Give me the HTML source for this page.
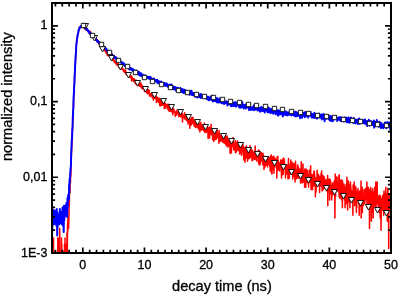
<!DOCTYPE html>
<html><head><meta charset="utf-8"><style>
html,body{margin:0;padding:0;background:#fff;}
body{width:399px;height:296px;overflow:hidden;}
svg{display:block;}
</style></head><body>
<svg width="399" height="296" viewBox="0 0 399 296">
<defs><clipPath id="c"><rect x="52.0" y="3.0" width="339.0" height="250.0"/></clipPath></defs>
<g clip-path="url(#c)" fill="none" stroke-linejoin="round">
<polyline points="52.0,251.3 52.2,274.1 52.3,300.0 52.5,296.9 52.7,260.8 52.8,300.0 53.0,300.0 53.2,296.9 53.3,260.8 53.5,238.0 53.7,296.9 53.8,296.9 54.0,260.8 54.2,300.0 54.3,300.0 54.5,274.1 54.7,274.1 54.8,300.0 55.0,300.0 55.2,274.1 55.3,251.3 55.5,300.0 55.7,300.0 55.8,296.9 56.0,300.0 56.2,300.0 56.3,300.0 56.5,300.0 56.7,300.0 56.8,296.9 57.0,274.1 57.2,300.0 57.3,296.9 57.5,296.9 57.7,300.0 57.8,238.0 58.0,300.0 58.2,296.9 58.3,300.0 58.5,300.0 58.7,300.0 58.8,296.9 59.0,238.0 59.2,244.0 59.3,260.8 59.5,260.8 59.7,228.5 59.8,251.3 60.0,300.0 60.2,251.3 60.3,251.3 60.5,274.1 60.7,260.8 60.8,274.1 61.0,300.0 61.2,300.0 61.3,296.9 61.5,238.0 61.7,300.0 61.8,244.0 62.0,300.0 62.2,274.1 62.3,300.0 62.5,300.0 62.7,296.9 62.8,260.8 63.0,296.9 63.2,296.9 63.3,260.8 63.5,274.1 63.7,300.0 63.8,251.3 64.0,274.1 64.2,300.0 64.3,300.0 64.5,244.0 64.6,251.3 64.8,300.0 65.0,238.0 65.1,260.8 65.3,251.3 65.5,251.3 65.6,274.1 65.8,296.9 66.0,260.8 66.1,274.1 66.3,244.0 66.5,296.9 66.6,260.8 66.8,274.1 67.0,232.9 67.1,296.9 67.3,260.8 67.5,224.6 67.6,232.9 67.8,221.2 68.0,218.0 68.1,221.2 68.3,218.0 68.5,228.5 68.6,228.5 68.8,221.2 69.0,215.2 69.1,201.8 69.3,205.7 69.5,193.8 69.6,187.3 69.8,192.4 70.0,192.4 70.1,180.0 70.3,179.0 70.5,182.9 70.6,172.4 70.8,176.4 71.0,168.2 71.1,159.6 71.3,157.2 71.5,152.4 71.6,150.8 71.8,145.4 72.0,143.5 72.1,136.1 72.3,131.9 72.5,131.0 72.6,126.5 72.8,121.0 73.0,119.5 73.1,116.6 73.3,108.4 73.5,104.9 73.6,98.0 73.8,94.9 74.0,92.3 74.1,88.5 74.3,84.6 74.5,81.0 74.6,76.7 74.8,72.4 75.0,68.9 75.1,66.3 75.3,65.0 75.5,60.5 75.6,57.6 75.8,55.2 76.0,51.6 76.1,47.7 76.3,45.7 76.5,43.0 76.6,42.0 76.8,40.8 77.0,39.8 77.1,39.2 77.3,36.9 77.5,36.4 77.6,35.5 77.8,34.7 78.0,34.5 78.1,33.3 78.3,32.8 78.5,31.5 78.6,30.7 78.8,30.9 79.0,29.6 79.1,29.2 79.3,29.0 79.5,27.1 79.6,28.6 79.8,27.7 80.0,27.3 80.1,27.0 80.3,26.8 80.5,27.6 80.6,26.5 80.8,27.0 81.0,26.9 81.1,26.8 81.3,26.6 81.5,26.2 81.6,25.7 81.8,27.3 82.0,26.0 82.1,26.5 82.3,25.2 82.5,25.6 82.6,25.2 82.8,25.9 83.0,26.6 83.1,26.3 83.3,27.7 83.5,26.1 83.6,26.8 83.8,27.5 84.0,26.9 84.1,27.9 84.3,27.6 84.5,26.6 84.6,27.2 84.8,28.4 85.0,27.2 85.1,29.5 85.3,27.8 85.5,28.7 85.6,28.2 85.8,27.8 86.0,28.4 86.1,28.8 86.3,29.8 86.5,28.7 86.6,28.3 86.8,30.2 86.9,29.9 87.1,29.9 87.3,29.0 87.4,30.5 87.6,30.5 87.8,30.5 87.9,30.8 88.1,30.1 88.3,31.9 88.4,31.8 88.6,32.3 88.8,32.7 88.9,31.8 89.1,31.8 89.3,31.8 89.4,31.7 89.6,32.5 89.8,33.5 89.9,32.8 90.1,32.5 90.3,31.3 90.4,33.3 90.6,33.6 90.8,32.3 90.9,34.5 91.1,34.7 91.3,33.8 91.4,33.7 91.6,34.0 91.8,35.0 91.9,35.3 92.1,34.8 92.3,34.6 92.4,35.0 92.6,37.2 92.8,37.4 92.9,35.9 93.1,37.2 93.3,36.3 93.4,37.4 93.6,37.2 93.8,36.8 93.9,37.9 94.1,38.3 94.3,37.8 94.4,37.7 94.6,38.6 94.8,37.9 94.9,39.2 95.1,37.6 95.3,38.4 95.4,39.2 95.6,39.1 95.8,37.9 95.9,38.9 96.1,38.9 96.3,40.1 96.4,38.9 96.6,39.4 96.8,40.7 96.9,39.8 97.1,41.8 97.3,39.8 97.4,41.5 97.6,42.4 97.8,40.5 97.9,42.1 98.1,40.5 98.3,41.6 98.4,42.5 98.6,41.5 98.8,42.5 98.9,42.9 99.1,43.0 99.3,44.6 99.4,44.0 99.6,43.9 99.8,44.2 99.9,43.5 100.1,44.7 100.3,45.2 100.4,44.5 100.6,45.5 100.8,44.7 100.9,45.7 101.1,46.2 101.3,45.0 101.4,46.3 101.6,48.1 101.8,48.1 101.9,48.2 102.1,46.9 102.3,47.1 102.4,46.6 102.6,48.8 102.8,47.4 102.9,47.3 103.1,47.7 103.3,49.4 103.4,49.2 103.6,48.4 103.8,49.7 103.9,50.0 104.1,48.9 104.3,49.1 104.4,49.6 104.6,49.2 104.8,48.8 104.9,51.1 105.1,51.2 105.3,50.3 105.4,51.3 105.6,49.8 105.8,51.9 105.9,50.8 106.1,53.3 106.3,52.0 106.4,52.1 106.6,53.4 106.8,51.9 106.9,54.0 107.1,53.0 107.3,53.2 107.4,55.6 107.6,53.3 107.8,55.0 107.9,55.4 108.1,55.0 108.3,55.3 108.4,55.1 108.6,54.4 108.8,55.4 108.9,55.9 109.1,54.8 109.2,54.1 109.4,56.0 109.6,56.9 109.7,56.9 109.9,55.2 110.1,55.7 110.2,56.1 110.4,57.2 110.6,57.4 110.7,56.7 110.9,58.2 111.1,57.4 111.2,57.8 111.4,58.9 111.6,58.0 111.7,57.7 111.9,58.0 112.1,58.9 112.2,59.0 112.4,59.9 112.6,59.5 112.7,60.2 112.9,60.1 113.1,57.7 113.2,60.5 113.4,61.1 113.6,60.1 113.7,60.5 113.9,59.9 114.1,59.9 114.2,60.4 114.4,62.3 114.6,60.5 114.7,60.8 114.9,62.2 115.1,62.6 115.2,63.0 115.4,61.7 115.6,62.3 115.7,63.0 115.9,63.0 116.1,63.2 116.2,62.9 116.4,64.7 116.6,63.9 116.7,64.5 116.9,63.0 117.1,63.8 117.2,64.0 117.4,64.0 117.6,65.0 117.7,65.6 117.9,65.4 118.1,63.0 118.2,64.1 118.4,64.7 118.6,66.6 118.7,65.6 118.9,65.8 119.1,67.8 119.2,65.6 119.4,67.0 119.6,65.2 119.7,65.6 119.9,66.2 120.1,68.0 120.2,68.4 120.4,68.6 120.6,68.3 120.7,68.4 120.9,65.6 121.1,66.4 121.2,67.7 121.4,68.9 121.6,68.7 121.7,67.5 121.9,68.6 122.1,68.9 122.2,67.9 122.4,67.9 122.6,69.5 122.7,69.0 122.9,68.8 123.1,69.4 123.2,70.6 123.4,69.2 123.6,70.0 123.7,71.4 123.9,69.7 124.1,71.7 124.2,70.6 124.4,72.3 124.6,71.2 124.7,70.7 124.9,71.8 125.1,70.0 125.2,70.1 125.4,72.0 125.6,73.8 125.7,70.6 125.9,72.6 126.1,72.1 126.2,73.9 126.4,73.3 126.6,74.6 126.7,74.1 126.9,75.2 127.1,74.0 127.2,74.2 127.4,73.5 127.6,74.9 127.7,75.5 127.9,75.1 128.1,73.9 128.2,72.9 128.4,74.7 128.6,74.7 128.7,75.7 128.9,73.6 129.1,73.8 129.2,75.0 129.4,75.3 129.6,75.4 129.7,77.0 129.9,76.0 130.1,76.7 130.2,77.3 130.4,76.2 130.6,76.7 130.7,77.8 130.9,77.2 131.1,78.3 131.2,78.3 131.4,75.8 131.5,79.9 131.7,81.0 131.9,80.5 132.0,76.5 132.2,80.3 132.4,78.1 132.5,78.9 132.7,78.9 132.9,79.7 133.0,79.7 133.2,79.1 133.4,80.2 133.5,79.1 133.7,81.5 133.9,79.3 134.0,79.5 134.2,78.7 134.4,79.2 134.5,79.8 134.7,82.0 134.9,80.3 135.0,81.0 135.2,83.1 135.4,83.8 135.5,82.2 135.7,81.4 135.9,80.0 136.0,82.0 136.2,83.7 136.4,82.2 136.5,84.7 136.7,83.4 136.9,82.5 137.0,83.4 137.2,83.2 137.4,82.3 137.5,81.3 137.7,85.3 137.9,84.1 138.0,85.8 138.2,84.2 138.4,84.4 138.5,83.0 138.7,85.0 138.9,84.4 139.0,84.1 139.2,85.4 139.4,84.7 139.5,84.0 139.7,86.2 139.9,85.5 140.0,86.3 140.2,83.4 140.4,85.8 140.5,86.2 140.7,85.3 140.9,82.8 141.0,87.0 141.2,87.0 141.4,87.9 141.5,84.7 141.7,85.8 141.9,85.2 142.0,86.0 142.2,87.5 142.4,88.8 142.5,86.8 142.7,87.7 142.9,86.5 143.0,87.2 143.2,88.6 143.4,88.0 143.5,88.8 143.7,88.4 143.9,87.6 144.0,89.4 144.2,89.3 144.4,88.7 144.5,91.6 144.7,89.9 144.9,90.0 145.0,87.3 145.2,90.3 145.4,91.2 145.5,89.7 145.7,90.4 145.9,91.7 146.0,90.9 146.2,90.8 146.4,91.4 146.5,91.3 146.7,93.0 146.9,92.5 147.0,89.5 147.2,90.5 147.4,92.6 147.5,92.6 147.7,93.8 147.9,89.5 148.0,92.6 148.2,90.0 148.4,90.9 148.5,91.9 148.7,92.7 148.9,89.9 149.0,93.0 149.2,94.2 149.4,90.6 149.5,95.9 149.7,93.7 149.9,95.4 150.0,96.2 150.2,94.2 150.4,94.5 150.5,94.6 150.7,96.0 150.9,95.5 151.0,94.4 151.2,93.4 151.4,95.0 151.5,94.0 151.7,93.9 151.9,95.2 152.0,93.6 152.2,97.8 152.4,97.2 152.5,94.6 152.7,93.2 152.9,96.6 153.0,96.0 153.2,95.7 153.4,100.3 153.5,94.8 153.7,95.3 153.8,98.5 154.0,97.8 154.2,95.1 154.3,97.1 154.5,96.0 154.7,98.2 154.8,96.9 155.0,96.3 155.2,98.1 155.3,98.7 155.5,97.9 155.7,98.7 155.8,95.3 156.0,97.5 156.2,99.5 156.3,98.7 156.5,102.5 156.7,99.9 156.8,101.2 157.0,97.0 157.2,99.2 157.3,97.8 157.5,101.6 157.7,99.8 157.8,99.8 158.0,97.8 158.2,100.8 158.3,100.0 158.5,102.4 158.7,102.1 158.8,99.9 159.0,100.4 159.2,102.6 159.3,98.3 159.5,100.0 159.7,103.9 159.8,105.6 160.0,101.9 160.2,106.0 160.3,99.8 160.5,103.4 160.7,101.7 160.8,102.8 161.0,99.8 161.2,105.2 161.3,100.6 161.5,104.9 161.7,102.3 161.8,102.6 162.0,104.9 162.2,104.5 162.3,105.3 162.5,102.6 162.7,104.6 162.8,103.8 163.0,103.2 163.2,104.6 163.3,105.0 163.5,104.9 163.7,100.8 163.8,103.3 164.0,102.4 164.2,103.8 164.3,108.5 164.5,102.5 164.7,107.1 164.8,105.7 165.0,104.2 165.2,105.0 165.3,108.3 165.5,103.6 165.7,104.2 165.8,105.6 166.0,105.8 166.2,105.3 166.3,106.4 166.5,106.1 166.7,106.4 166.8,106.0 167.0,104.5 167.2,104.7 167.3,108.7 167.5,105.8 167.7,105.4 167.8,104.5 168.0,107.2 168.2,104.7 168.3,110.1 168.5,107.6 168.7,106.3 168.8,104.2 169.0,110.6 169.2,111.2 169.3,107.3 169.5,108.1 169.7,108.8 169.8,106.0 170.0,107.6 170.2,110.0 170.3,110.5 170.5,108.5 170.7,111.2 170.8,106.9 171.0,108.4 171.2,111.7 171.3,107.7 171.5,107.7 171.7,109.0 171.8,111.7 172.0,109.4 172.2,109.5 172.3,111.6 172.5,106.6 172.7,107.9 172.8,114.8 173.0,107.8 173.2,109.1 173.3,110.2 173.5,109.1 173.7,110.9 173.8,109.3 174.0,109.5 174.2,112.3 174.3,110.9 174.5,111.5 174.7,111.7 174.8,111.6 175.0,111.3 175.2,116.4 175.3,112.3 175.5,114.1 175.6,114.4 175.8,112.5 176.0,115.2 176.1,113.6 176.3,112.5 176.5,115.0 176.6,112.6 176.8,110.2 177.0,111.1 177.1,113.0 177.3,113.3 177.5,113.3 177.6,112.6 177.8,113.1 178.0,112.4 178.1,114.0 178.3,112.8 178.5,115.8 178.6,111.6 178.8,113.5 179.0,116.8 179.1,110.2 179.3,113.9 179.5,114.6 179.6,115.8 179.8,114.0 180.0,112.9 180.1,114.6 180.3,110.8 180.5,115.4 180.6,114.5 180.8,117.1 181.0,111.0 181.1,110.9 181.3,115.3 181.5,114.3 181.6,114.6 181.8,114.8 182.0,113.6 182.1,115.3 182.3,116.0 182.5,122.0 182.6,113.4 182.8,118.9 183.0,115.6 183.1,115.7 183.3,116.2 183.5,117.5 183.6,116.1 183.8,117.6 184.0,117.1 184.1,116.6 184.3,115.4 184.5,118.2 184.6,112.8 184.8,117.3 185.0,119.1 185.1,116.4 185.3,117.1 185.5,115.7 185.6,118.5 185.8,115.2 186.0,116.0 186.1,120.0 186.3,117.5 186.5,117.1 186.6,116.1 186.8,114.4 187.0,117.5 187.1,120.9 187.3,118.0 187.5,119.8 187.6,116.4 187.8,117.1 188.0,124.0 188.1,119.1 188.3,121.4 188.5,117.6 188.6,119.2 188.8,118.5 189.0,119.8 189.1,115.4 189.3,121.4 189.5,119.4 189.6,123.3 189.8,128.2 190.0,124.5 190.1,125.4 190.3,122.2 190.5,121.7 190.6,123.1 190.8,118.9 191.0,122.0 191.1,124.7 191.3,120.9 191.5,125.0 191.6,117.5 191.8,120.9 192.0,122.6 192.1,121.0 192.3,122.2 192.5,121.5 192.6,123.1 192.8,120.0 193.0,117.3 193.1,119.1 193.3,123.6 193.5,119.7 193.6,121.2 193.8,120.9 194.0,121.7 194.1,125.6 194.3,126.1 194.5,123.3 194.6,120.7 194.8,124.0 195.0,125.4 195.1,123.0 195.3,122.3 195.5,127.6 195.6,122.3 195.8,127.6 196.0,125.9 196.1,123.5 196.3,124.0 196.5,123.0 196.6,123.6 196.8,123.0 197.0,121.5 197.1,125.4 197.3,122.8 197.5,123.1 197.6,127.8 197.8,124.5 197.9,123.8 198.1,123.0 198.3,123.5 198.4,127.4 198.6,123.8 198.8,129.6 198.9,124.0 199.1,123.5 199.3,127.0 199.4,125.4 199.6,128.6 199.8,123.3 199.9,131.9 200.1,129.2 200.3,124.2 200.4,123.6 200.6,129.4 200.8,122.3 200.9,125.7 201.1,127.6 201.3,128.2 201.4,127.0 201.6,130.0 201.8,128.2 201.9,126.1 202.1,125.0 202.3,128.4 202.4,126.8 202.6,127.0 202.8,127.4 202.9,130.0 203.1,126.8 203.3,130.0 203.4,128.2 203.6,125.4 203.8,128.0 203.9,131.2 204.1,125.4 204.3,130.2 204.4,123.0 204.6,129.4 204.8,125.4 204.9,126.1 205.1,132.8 205.3,130.2 205.4,130.6 205.6,127.6 205.8,127.8 205.9,125.2 206.1,130.4 206.3,129.0 206.4,126.8 206.6,132.3 206.8,131.0 206.9,126.8 207.1,130.6 207.3,130.6 207.4,132.3 207.6,130.2 207.8,127.4 207.9,129.8 208.1,138.4 208.3,128.0 208.4,129.8 208.6,131.9 208.8,131.7 208.9,130.4 209.1,133.0 209.3,136.1 209.4,127.0 209.6,138.1 209.8,129.2 209.9,133.9 210.1,133.7 210.3,129.6 210.4,132.3 210.6,134.1 210.8,133.4 210.9,132.3 211.1,124.3 211.3,130.4 211.4,130.8 211.6,130.2 211.8,135.1 211.9,134.1 212.1,131.5 212.3,130.4 212.4,130.4 212.6,139.7 212.8,131.0 212.9,132.8 213.1,131.5 213.3,129.8 213.4,131.9 213.6,130.6 213.8,140.6 213.9,141.4 214.1,134.4 214.3,134.6 214.4,131.5 214.6,134.4 214.8,137.1 214.9,133.7 215.1,138.9 215.3,133.4 215.4,139.4 215.6,131.0 215.8,135.1 215.9,136.1 216.1,136.1 216.3,139.2 216.4,133.0 216.6,138.1 216.8,135.3 216.9,129.8 217.1,131.5 217.3,131.0 217.4,135.1 217.6,133.4 217.8,137.8 217.9,135.1 218.1,136.6 218.3,136.1 218.4,137.3 218.6,133.7 218.8,140.0 218.9,143.2 219.1,130.6 219.3,135.1 219.4,138.4 219.6,136.8 219.8,138.6 219.9,141.4 220.1,136.6 220.2,135.6 220.4,137.6 220.6,138.1 220.7,136.8 220.9,141.1 221.1,140.8 221.2,136.3 221.4,134.4 221.6,139.2 221.7,137.8 221.9,138.6 222.1,137.1 222.2,135.6 222.4,139.7 222.6,142.0 222.7,136.8 222.9,142.3 223.1,140.8 223.2,140.8 223.4,142.0 223.6,141.7 223.7,137.8 223.9,142.3 224.1,136.3 224.2,143.2 224.4,139.7 224.6,136.3 224.7,141.4 224.9,137.3 225.1,135.6 225.2,136.6 225.4,138.6 225.6,144.5 225.7,137.8 225.9,143.5 226.1,138.9 226.2,139.2 226.4,136.3 226.6,141.7 226.7,146.1 226.9,139.2 227.1,136.1 227.2,141.4 227.4,137.3 227.6,141.4 227.7,140.6 227.9,144.8 228.1,147.1 228.2,139.2 228.4,141.4 228.6,141.1 228.7,145.4 228.9,145.4 229.1,144.8 229.2,141.1 229.4,140.8 229.6,142.0 229.7,139.4 229.9,145.4 230.1,153.6 230.2,141.1 230.4,142.3 230.6,140.8 230.7,148.2 230.9,142.9 231.1,142.3 231.2,148.5 231.4,152.8 231.6,142.0 231.7,143.2 231.9,143.2 232.1,139.7 232.2,146.8 232.4,142.6 232.6,144.1 232.7,141.7 232.9,140.6 233.1,144.5 233.2,137.6 233.4,143.2 233.6,143.5 233.7,150.0 233.9,145.8 234.1,144.5 234.2,145.1 234.4,145.1 234.6,144.8 234.7,144.1 234.9,149.3 235.1,141.1 235.2,143.8 235.4,152.8 235.6,140.8 235.7,151.2 235.9,146.1 236.1,142.9 236.2,147.1 236.4,152.0 236.6,142.9 236.7,145.8 236.9,146.1 237.1,150.4 237.2,148.9 237.4,148.9 237.6,141.1 237.7,143.2 237.9,150.0 238.1,147.8 238.2,145.8 238.4,148.5 238.6,147.1 238.7,146.4 238.9,143.8 239.1,147.1 239.2,151.6 239.4,147.8 239.6,150.8 239.7,154.0 239.9,151.2 240.1,147.1 240.2,145.1 240.4,147.5 240.6,150.0 240.7,147.8 240.9,147.8 241.1,142.6 241.2,146.8 241.4,155.3 241.6,148.9 241.7,154.9 241.9,144.8 242.1,151.6 242.2,143.2 242.4,147.5 242.5,143.5 242.7,146.8 242.9,144.5 243.0,149.3 243.2,146.1 243.4,152.4 243.5,152.8 243.7,157.6 243.9,160.1 244.0,152.8 244.2,151.2 244.4,154.9 244.5,147.8 244.7,147.5 244.9,154.9 245.0,162.2 245.2,156.7 245.4,154.0 245.5,148.5 245.7,151.2 245.9,146.4 246.0,150.4 246.2,148.5 246.4,157.2 246.5,146.1 246.7,154.5 246.9,158.1 247.0,153.6 247.2,148.9 247.4,153.6 247.5,161.2 247.7,156.7 247.9,155.3 248.0,154.5 248.2,159.1 248.4,147.8 248.5,155.3 248.7,154.5 248.9,148.9 249.0,151.2 249.2,150.4 249.4,158.6 249.5,154.0 249.7,157.2 249.9,153.6 250.0,145.4 250.2,157.6 250.4,153.2 250.5,154.0 250.7,154.5 250.9,154.5 251.0,151.6 251.2,152.0 251.4,154.9 251.5,148.9 251.7,153.6 251.9,157.6 252.0,160.6 252.2,160.6 252.4,157.6 252.5,154.0 252.7,160.6 252.9,150.8 253.0,156.7 253.2,156.7 253.4,157.6 253.5,155.3 253.7,155.3 253.9,153.2 254.0,158.1 254.2,152.8 254.4,159.6 254.5,156.2 254.7,152.0 254.9,158.6 255.0,154.0 255.2,146.1 255.4,150.8 255.5,155.8 255.7,159.1 255.9,155.8 256.0,152.4 256.2,160.1 256.4,154.5 256.5,154.0 256.7,153.2 256.9,161.2 257.0,154.0 257.2,157.2 257.4,152.4 257.5,153.6 257.7,154.5 257.9,155.8 258.0,156.2 258.2,155.3 258.4,151.6 258.5,150.0 258.7,163.9 258.9,158.6 259.0,157.6 259.2,156.7 259.4,150.8 259.5,155.8 259.7,161.2 259.9,165.1 260.0,161.7 260.2,162.8 260.4,154.5 260.5,163.4 260.7,159.1 260.9,154.9 261.0,152.4 261.2,156.2 261.4,159.6 261.5,152.8 261.7,160.6 261.9,154.5 262.0,159.1 262.2,161.2 262.4,159.6 262.5,160.1 262.7,159.1 262.9,165.1 263.0,153.2 263.2,155.3 263.4,156.7 263.5,156.2 263.7,156.7 263.9,156.7 264.0,169.6 264.2,156.7 264.4,163.4 264.5,159.1 264.7,167.6 264.8,161.2 265.0,156.2 265.2,160.1 265.3,157.6 265.5,165.7 265.7,160.6 265.8,162.8 266.0,165.1 266.2,160.6 266.3,162.2 266.5,158.1 266.7,165.1 266.8,160.6 267.0,161.2 267.2,158.1 267.3,163.9 267.5,166.9 267.7,163.9 267.8,157.6 268.0,159.6 268.2,157.6 268.3,156.7 268.5,157.2 268.7,157.6 268.8,161.7 269.0,159.1 269.2,164.5 269.3,159.6 269.5,158.6 269.7,166.3 269.8,161.7 270.0,157.2 270.2,171.0 270.3,160.1 270.5,165.1 270.7,155.8 270.8,163.4 271.0,156.2 271.2,154.9 271.3,159.1 271.5,173.2 271.7,160.6 271.8,162.2 272.0,174.0 272.2,168.9 272.3,164.5 272.5,156.7 272.7,159.6 272.8,169.6 273.0,160.1 273.2,161.7 273.3,159.1 273.5,163.9 273.7,165.1 273.8,156.2 274.0,173.2 274.2,163.9 274.3,163.4 274.5,166.9 274.7,161.2 274.8,164.5 275.0,158.1 275.2,163.4 275.3,164.5 275.5,165.1 275.7,163.9 275.8,159.6 276.0,163.4 276.2,163.9 276.3,167.6 276.5,162.8 276.7,166.3 276.8,178.1 277.0,166.3 277.2,156.7 277.3,165.1 277.5,157.2 277.7,163.4 277.8,156.2 278.0,170.3 278.2,165.1 278.3,160.6 278.5,169.6 278.7,162.8 278.8,162.8 279.0,168.9 279.2,167.6 279.3,163.9 279.5,168.9 279.7,171.0 279.8,163.4 280.0,162.8 280.2,166.3 280.3,166.3 280.5,162.8 280.7,160.1 280.8,161.2 281.0,164.5 281.2,166.9 281.3,165.1 281.5,178.1 281.7,165.7 281.8,166.9 282.0,160.1 282.2,167.6 282.3,165.7 282.5,166.3 282.7,166.9 282.8,174.8 283.0,170.3 283.2,158.1 283.3,174.0 283.5,163.9 283.7,168.9 283.8,166.9 284.0,166.3 284.2,165.1 284.3,159.1 284.5,163.9 284.7,164.5 284.8,165.1 285.0,167.6 285.2,169.6 285.3,170.3 285.5,178.1 285.7,169.6 285.8,166.9 286.0,172.4 286.2,166.9 286.3,165.7 286.5,174.0 286.7,165.1 286.8,170.3 287.0,168.9 287.1,168.2 287.3,165.1 287.5,172.4 287.6,167.6 287.8,170.3 288.0,179.0 288.1,166.9 288.3,166.9 288.5,158.6 288.6,170.3 288.8,171.7 289.0,174.0 289.1,167.6 289.3,178.1 289.5,172.4 289.6,166.3 289.8,167.6 290.0,170.3 290.1,165.7 290.3,163.4 290.5,168.2 290.6,174.0 290.8,160.1 291.0,174.0 291.1,161.7 291.3,171.0 291.5,171.0 291.6,166.3 291.8,174.0 292.0,162.2 292.1,168.2 292.3,169.6 292.5,168.9 292.6,162.8 292.8,179.0 293.0,166.9 293.1,172.4 293.3,167.6 293.5,170.3 293.6,172.4 293.8,163.9 294.0,168.9 294.1,166.9 294.3,176.4 294.5,163.9 294.6,168.9 294.8,174.0 295.0,181.9 295.1,166.9 295.3,165.1 295.5,161.2 295.6,169.6 295.8,171.0 296.0,174.0 296.1,179.0 296.3,169.6 296.5,177.3 296.6,176.4 296.8,172.4 297.0,173.2 297.1,178.1 297.3,170.3 297.5,165.1 297.6,178.1 297.8,165.1 298.0,168.2 298.1,173.2 298.3,178.1 298.5,166.9 298.6,178.1 298.8,168.9 299.0,174.8 299.1,174.0 299.3,176.4 299.5,172.4 299.6,174.8 299.8,168.9 300.0,172.4 300.1,174.0 300.3,170.3 300.5,182.9 300.6,172.4 300.8,179.0 301.0,174.8 301.1,171.7 301.3,161.7 301.5,174.8 301.6,179.0 301.8,170.3 302.0,178.1 302.1,182.9 302.3,175.6 302.5,169.6 302.6,175.6 302.8,177.3 303.0,163.9 303.1,176.4 303.3,181.9 303.5,171.7 303.6,172.4 303.8,181.9 304.0,180.0 304.1,180.0 304.3,180.0 304.5,177.3 304.6,187.3 304.8,168.9 305.0,179.0 305.1,174.0 305.3,172.4 305.5,185.0 305.6,177.3 305.8,187.3 306.0,173.2 306.1,168.9 306.3,171.0 306.5,178.1 306.6,174.8 306.8,170.3 307.0,177.3 307.1,181.9 307.3,174.0 307.5,170.3 307.6,175.6 307.8,179.0 308.0,178.1 308.1,184.0 308.3,175.6 308.5,174.8 308.6,187.3 308.8,176.4 309.0,178.1 309.1,175.6 309.3,176.4 309.4,170.3 309.6,172.4 309.8,175.6 309.9,181.9 310.1,174.0 310.3,179.0 310.4,178.1 310.6,165.7 310.8,176.4 310.9,182.9 311.1,189.7 311.3,182.9 311.4,181.9 311.6,180.9 311.8,174.8 311.9,175.6 312.1,176.4 312.3,182.9 312.4,174.8 312.6,189.7 312.8,180.0 312.9,177.3 313.1,180.9 313.3,181.9 313.4,181.9 313.6,174.0 313.8,186.1 313.9,171.0 314.1,184.0 314.3,178.1 314.4,171.7 314.6,175.6 314.8,185.0 314.9,181.9 315.1,180.9 315.3,182.9 315.4,196.8 315.6,178.1 315.8,179.0 315.9,192.4 316.1,191.0 316.3,182.9 316.4,180.0 316.6,182.9 316.8,186.1 316.9,185.0 317.1,170.3 317.3,182.9 317.4,184.0 317.6,175.6 317.8,174.0 317.9,182.9 318.1,181.9 318.3,180.0 318.4,177.3 318.6,174.8 318.8,178.1 318.9,185.0 319.1,180.9 319.3,179.0 319.4,180.9 319.6,192.4 319.8,176.4 319.9,186.1 320.1,177.3 320.3,182.9 320.4,184.0 320.6,186.1 320.8,184.0 320.9,179.0 321.1,173.2 321.3,185.0 321.4,185.0 321.6,171.0 321.8,176.4 321.9,180.9 322.1,191.0 322.3,185.0 322.4,184.0 322.6,185.0 322.8,181.9 322.9,175.6 323.1,189.7 323.3,184.0 323.4,180.0 323.6,181.9 323.8,176.4 323.9,178.1 324.1,181.9 324.3,179.0 324.4,177.3 324.6,188.5 324.8,184.0 324.9,182.9 325.1,185.0 325.3,181.9 325.4,186.1 325.6,187.3 325.8,187.3 325.9,180.0 326.1,184.0 326.3,185.0 326.4,180.0 326.6,181.9 326.8,188.5 326.9,191.0 327.1,184.0 327.3,180.9 327.4,180.9 327.6,175.6 327.8,205.7 327.9,179.0 328.1,188.5 328.3,179.0 328.4,180.9 328.6,186.1 328.8,186.1 328.9,189.7 329.1,191.0 329.3,184.0 329.4,184.0 329.6,200.1 329.8,179.0 329.9,189.7 330.1,185.0 330.3,186.1 330.4,180.0 330.6,191.0 330.8,181.9 330.9,187.3 331.1,193.8 331.3,186.1 331.4,189.7 331.6,187.3 331.7,200.1 331.9,193.8 332.1,193.8 332.2,187.3 332.4,185.0 332.6,195.2 332.7,182.9 332.9,189.7 333.1,187.3 333.2,192.4 333.4,193.8 333.6,187.3 333.7,191.0 333.9,189.7 334.1,189.7 334.2,180.9 334.4,186.1 334.6,187.3 334.7,187.3 334.9,218.0 335.1,191.0 335.2,174.0 335.4,182.9 335.6,196.8 335.7,185.0 335.9,176.4 336.1,191.0 336.2,184.0 336.4,186.1 336.6,182.9 336.7,187.3 336.9,182.9 337.1,177.3 337.2,188.5 337.4,191.0 337.6,189.7 337.7,187.3 337.9,181.9 338.1,181.9 338.2,189.7 338.4,187.3 338.6,191.0 338.7,189.7 338.9,175.6 339.1,196.8 339.2,174.8 339.4,192.4 339.6,195.2 339.7,189.7 339.9,198.4 340.1,189.7 340.2,185.0 340.4,195.2 340.6,184.0 340.7,180.0 340.9,186.1 341.1,182.9 341.2,193.8 341.4,192.4 341.6,200.1 341.7,186.1 341.9,180.0 342.1,186.1 342.2,192.4 342.4,207.8 342.6,180.9 342.7,198.4 342.9,193.8 343.1,196.8 343.2,189.7 343.4,193.8 343.6,185.0 343.7,193.8 343.9,184.0 344.1,185.0 344.2,192.4 344.4,187.3 344.6,200.1 344.7,193.8 344.9,189.7 345.1,207.8 345.2,200.1 345.4,187.3 345.6,201.8 345.7,196.8 345.9,185.0 346.1,203.7 346.2,200.1 346.4,196.8 346.6,193.8 346.7,192.4 346.9,177.3 347.1,188.5 347.2,193.8 347.4,189.7 347.6,210.1 347.7,201.8 347.9,200.1 348.1,195.2 348.2,196.8 348.4,180.9 348.6,201.8 348.7,195.2 348.9,193.8 349.1,201.8 349.2,193.8 349.4,185.0 349.6,200.1 349.7,189.7 349.9,207.8 350.1,195.2 350.2,188.5 350.4,181.9 350.6,185.0 350.7,188.5 350.9,187.3 351.1,192.4 351.2,191.0 351.4,192.4 351.6,198.4 351.7,198.4 351.9,191.0 352.1,200.1 352.2,196.8 352.4,196.8 352.6,192.4 352.7,195.2 352.9,215.2 353.1,185.0 353.2,188.5 353.4,187.3 353.5,192.4 353.7,196.8 353.9,192.4 354.0,187.3 354.2,181.9 354.4,193.8 354.5,196.8 354.7,205.7 354.9,186.1 355.0,188.5 355.2,191.0 355.4,192.4 355.5,195.2 355.7,187.3 355.9,187.3 356.0,192.4 356.2,192.4 356.4,212.5 356.5,200.1 356.7,207.8 356.9,200.1 357.0,192.4 357.2,200.1 357.4,191.0 357.5,195.2 357.7,191.0 357.9,192.4 358.0,188.5 358.2,200.1 358.4,192.4 358.5,195.2 358.7,203.7 358.9,201.8 359.0,200.1 359.2,215.2 359.4,203.7 359.5,195.2 359.7,191.0 359.9,195.2 360.0,193.8 360.2,195.2 360.4,191.0 360.5,205.7 360.7,198.4 360.9,198.4 361.0,180.9 361.2,218.0 361.4,203.7 361.5,196.8 361.7,192.4 361.9,191.0 362.0,192.4 362.2,187.3 362.4,212.5 362.5,203.7 362.7,201.8 362.9,200.1 363.0,203.7 363.2,195.2 363.4,205.7 363.5,200.1 363.7,203.7 363.9,191.0 364.0,189.7 364.2,196.8 364.4,195.2 364.5,196.8 364.7,198.4 364.9,203.7 365.0,195.2 365.2,191.0 365.4,200.1 365.5,188.5 365.7,198.4 365.9,192.4 366.0,195.2 366.2,188.5 366.4,195.2 366.5,196.8 366.7,196.8 366.9,181.9 367.0,207.8 367.2,200.1 367.4,201.8 367.5,192.4 367.7,201.8 367.9,193.8 368.0,203.7 368.2,187.3 368.4,193.8 368.5,195.2 368.7,198.4 368.9,191.0 369.0,201.8 369.2,191.0 369.4,189.7 369.5,228.5 369.7,205.7 369.9,200.1 370.0,201.8 370.2,195.2 370.4,200.1 370.5,187.3 370.7,201.8 370.9,201.8 371.0,203.7 371.2,203.7 371.4,221.2 371.5,200.1 371.7,210.1 371.9,191.0 372.0,193.8 372.2,191.0 372.4,193.8 372.5,188.5 372.7,203.7 372.9,212.5 373.0,192.4 373.2,218.0 373.4,196.8 373.5,195.2 373.7,196.8 373.9,196.8 374.0,201.8 374.2,191.0 374.4,205.7 374.5,189.7 374.7,187.3 374.9,200.1 375.0,201.8 375.2,200.1 375.4,207.8 375.5,196.8 375.7,200.1 375.8,181.9 376.0,210.1 376.2,203.7 376.3,191.0 376.5,188.5 376.7,195.2 376.8,201.8 377.0,196.8 377.2,181.9 377.3,201.8 377.5,203.7 377.7,196.8 377.8,196.8 378.0,196.8 378.2,198.4 378.3,205.7 378.5,207.8 378.7,205.7 378.8,210.1 379.0,196.8 379.2,195.2 379.3,212.5 379.5,203.7 379.7,201.8 379.8,210.1 380.0,195.2 380.2,218.0 380.3,196.8 380.5,196.8 380.7,207.8 380.8,196.8 381.0,230.2 381.2,212.5 381.3,205.7 381.5,203.7 381.7,203.7 381.8,201.8 382.0,200.1 382.2,210.1 382.3,198.4 382.5,203.7 382.7,205.7 382.8,195.2 383.0,207.8 383.2,203.7 383.3,198.4 383.5,210.1 383.7,215.2 383.8,196.8 384.0,191.0 384.2,205.7 384.3,203.7 384.5,201.8 384.7,210.1 384.8,201.8 385.0,193.8 385.2,196.8 385.3,212.5 385.5,200.1 385.7,212.5 385.8,187.3 386.0,203.7 386.2,195.2 386.3,210.1 386.5,195.2 386.7,201.8 386.8,203.7 387.0,193.8 387.2,201.8 387.3,221.2 387.5,215.2 387.7,198.4 387.8,188.5 388.0,192.4 388.2,205.7 388.3,200.1 388.5,198.4 388.7,248.4 388.8,212.5 389.0,212.5 389.2,200.1 389.3,205.7 389.5,205.7 389.7,193.8 389.8,193.8 390.0,200.1 390.2,207.8 390.3,201.8 390.5,205.7 390.7,210.1 390.8,195.2 391.0,198.4" stroke="#f00" stroke-width="1.5"/>
<polyline points="52.0,230.2 52.2,212.7 52.3,230.2 52.5,218.0 52.7,213.7 52.8,220.3 53.0,219.1 53.2,222.9 53.3,214.7 53.5,221.6 53.7,210.0 53.8,219.1 54.0,220.3 54.2,224.2 54.3,221.6 54.5,213.7 54.7,211.8 54.8,214.7 55.0,219.1 55.2,210.9 55.3,211.8 55.5,218.0 55.7,214.7 55.8,210.9 56.0,216.9 56.2,215.8 56.3,225.6 56.5,213.7 56.7,209.1 56.8,210.9 57.0,212.7 57.2,235.5 57.3,230.2 57.5,224.2 57.7,227.1 57.8,218.0 58.0,224.2 58.2,214.7 58.3,214.7 58.5,216.9 58.7,214.7 58.8,216.9 59.0,218.0 59.2,218.0 59.3,212.7 59.5,224.2 59.7,220.3 59.8,209.1 60.0,220.3 60.2,218.0 60.3,216.9 60.5,216.9 60.7,213.7 60.8,211.8 61.0,218.0 61.2,222.9 61.3,221.6 61.5,215.8 61.7,218.0 61.8,213.7 62.0,224.2 62.2,219.1 62.3,220.3 62.5,207.4 62.7,225.6 62.8,220.3 63.0,215.8 63.2,225.6 63.3,213.7 63.5,215.8 63.7,231.9 63.8,222.9 64.0,205.8 64.2,216.9 64.3,220.3 64.5,216.9 64.6,211.8 64.8,216.9 65.0,214.7 65.1,213.7 65.3,214.7 65.5,208.2 65.6,211.8 65.8,205.0 66.0,210.9 66.1,208.2 66.3,207.4 66.5,205.0 66.6,202.8 66.8,206.6 67.0,210.0 67.1,216.9 67.3,212.7 67.5,198.1 67.6,207.4 67.8,200.7 68.0,202.1 68.1,197.5 68.3,194.6 68.5,198.8 68.6,199.4 68.8,199.4 69.0,198.1 69.1,185.0 69.3,193.5 69.5,180.4 69.6,183.8 69.8,178.3 70.0,176.9 70.1,177.3 70.3,172.7 70.5,170.5 70.6,167.9 70.8,167.1 71.0,162.8 71.1,156.7 71.3,151.3 71.5,147.3 71.6,144.4 71.8,139.6 72.0,138.4 72.1,137.0 72.3,128.7 72.5,128.5 72.6,125.7 72.8,116.6 73.0,116.3 73.1,110.3 73.3,109.6 73.5,101.8 73.6,98.5 73.8,94.6 74.0,91.0 74.1,86.2 74.3,85.4 74.5,80.3 74.6,76.6 74.8,73.9 75.0,70.0 75.1,66.0 75.3,62.5 75.5,59.9 75.6,56.7 75.8,54.0 76.0,51.9 76.1,48.5 76.3,45.7 76.5,43.4 76.6,42.5 76.8,41.2 77.0,39.2 77.1,38.3 77.3,37.7 77.5,35.9 77.6,35.4 77.8,34.3 78.0,33.9 78.1,33.3 78.3,32.6 78.5,30.9 78.6,30.4 78.8,29.6 79.0,29.8 79.1,29.2 79.3,29.2 79.5,27.6 79.6,28.1 79.8,27.3 80.0,27.3 80.1,27.2 80.3,27.0 80.5,27.4 80.6,26.4 80.8,26.3 81.0,26.6 81.1,26.5 81.3,25.9 81.5,26.5 81.6,26.2 81.8,26.4 82.0,26.1 82.1,26.2 82.3,25.9 82.5,26.4 82.6,26.8 82.8,26.9 83.0,25.9 83.1,26.3 83.3,26.7 83.5,26.8 83.6,26.7 83.8,26.9 84.0,26.6 84.1,26.9 84.3,26.9 84.5,27.1 84.6,26.5 84.8,27.6 85.0,27.7 85.1,27.6 85.3,28.5 85.5,28.0 85.6,27.9 85.8,28.8 86.0,29.4 86.1,28.8 86.3,28.8 86.5,29.3 86.6,29.4 86.8,28.8 86.9,29.6 87.1,29.6 87.3,29.9 87.4,30.2 87.6,29.9 87.8,30.3 87.9,30.9 88.1,31.3 88.3,30.9 88.4,31.2 88.6,31.3 88.8,31.0 88.9,32.0 89.1,31.8 89.3,32.7 89.4,33.2 89.6,32.4 89.8,32.9 89.9,33.0 90.1,32.8 90.3,33.8 90.4,34.0 90.6,33.7 90.8,33.5 90.9,34.5 91.1,34.5 91.3,34.9 91.4,35.3 91.6,34.1 91.8,34.7 91.9,35.0 92.1,35.6 92.3,35.5 92.4,35.5 92.6,35.9 92.8,35.7 92.9,36.2 93.1,36.3 93.3,36.7 93.4,37.0 93.6,37.5 93.8,36.6 93.9,37.1 94.1,37.5 94.3,38.2 94.4,37.6 94.6,37.8 94.8,38.2 94.9,38.6 95.1,39.0 95.3,39.5 95.4,38.6 95.6,39.5 95.8,39.3 95.9,39.0 96.1,39.1 96.3,39.3 96.4,40.0 96.6,40.0 96.8,40.3 96.9,40.5 97.1,40.7 97.3,41.4 97.4,41.2 97.6,41.3 97.8,41.6 97.9,41.1 98.1,42.0 98.3,41.7 98.4,41.9 98.6,42.5 98.8,42.0 98.9,42.8 99.1,43.2 99.3,43.0 99.4,42.1 99.6,43.7 99.8,43.6 99.9,44.1 100.1,43.0 100.3,44.1 100.4,44.6 100.6,44.6 100.8,44.7 100.9,44.6 101.1,44.7 101.3,45.3 101.4,45.0 101.6,45.4 101.8,46.1 101.9,45.1 102.1,45.8 102.3,46.5 102.4,45.1 102.6,46.2 102.8,46.5 102.9,47.2 103.1,46.5 103.3,46.2 103.4,46.8 103.6,47.1 103.8,48.0 103.9,47.9 104.1,47.4 104.3,48.2 104.4,48.5 104.6,47.8 104.8,48.6 104.9,48.3 105.1,48.0 105.3,48.6 105.4,48.0 105.6,48.2 105.8,48.9 105.9,49.2 106.1,49.3 106.3,48.7 106.4,50.0 106.6,50.2 106.8,50.4 106.9,50.6 107.1,50.1 107.3,50.4 107.4,50.3 107.6,51.3 107.8,50.9 107.9,52.1 108.1,50.8 108.3,51.2 108.4,51.1 108.6,51.5 108.8,52.7 108.9,52.2 109.1,52.1 109.2,52.3 109.4,51.3 109.6,53.1 109.7,52.7 109.9,52.9 110.1,53.5 110.2,53.2 110.4,53.8 110.6,53.7 110.7,54.4 110.9,53.7 111.1,53.5 111.2,55.3 111.4,54.3 111.6,53.6 111.7,54.2 111.9,54.8 112.1,55.1 112.2,54.9 112.4,55.0 112.6,55.6 112.7,55.5 112.9,55.5 113.1,56.1 113.2,56.1 113.4,56.1 113.6,57.1 113.7,57.0 113.9,55.8 114.1,57.1 114.2,57.0 114.4,57.0 114.6,58.0 114.7,58.1 114.9,57.6 115.1,57.9 115.2,57.4 115.4,58.0 115.6,58.1 115.7,56.9 115.9,57.6 116.1,57.7 116.2,59.3 116.4,58.2 116.6,59.9 116.7,59.1 116.9,59.3 117.1,59.4 117.2,59.6 117.4,59.5 117.6,58.8 117.7,60.7 117.9,60.5 118.1,59.2 118.2,60.4 118.4,59.5 118.6,60.4 118.7,60.0 118.9,59.6 119.1,61.3 119.2,60.5 119.4,62.1 119.6,61.7 119.7,61.3 119.9,61.3 120.1,61.6 120.2,60.6 120.4,61.7 120.6,61.5 120.7,61.8 120.9,62.4 121.1,62.0 121.2,62.7 121.4,62.9 121.6,62.5 121.7,62.5 121.9,62.5 122.1,63.0 122.2,63.4 122.4,63.1 122.6,62.5 122.7,63.4 122.9,63.1 123.1,63.5 123.2,63.8 123.4,63.2 123.6,65.0 123.7,64.3 123.9,64.4 124.1,63.8 124.2,65.5 124.4,64.7 124.6,65.2 124.7,65.7 124.9,65.1 125.1,65.9 125.2,65.4 125.4,65.3 125.6,65.2 125.7,64.7 125.9,66.5 126.1,66.2 126.2,66.5 126.4,66.6 126.6,66.2 126.7,66.6 126.9,67.1 127.1,66.9 127.2,66.2 127.4,67.5 127.6,67.5 127.7,67.3 127.9,67.5 128.1,66.2 128.2,66.9 128.4,67.1 128.6,68.1 128.7,67.7 128.9,67.9 129.1,69.1 129.2,67.6 129.4,68.1 129.6,69.6 129.7,69.0 129.9,69.4 130.1,69.1 130.2,68.8 130.4,69.4 130.6,68.2 130.7,68.0 130.9,69.3 131.1,69.2 131.2,68.7 131.4,69.2 131.5,68.7 131.7,69.9 131.9,69.0 132.0,69.5 132.2,68.7 132.4,70.5 132.5,70.4 132.7,70.0 132.9,69.3 133.0,71.1 133.2,70.7 133.4,69.5 133.5,71.2 133.7,70.8 133.9,71.2 134.0,70.1 134.2,71.2 134.4,71.2 134.5,71.2 134.7,71.0 134.9,72.4 135.0,71.0 135.2,70.9 135.4,71.2 135.5,71.4 135.7,71.7 135.9,72.3 136.0,70.6 136.2,72.9 136.4,72.3 136.5,71.2 136.7,73.0 136.9,73.4 137.0,72.3 137.2,72.3 137.4,72.9 137.5,73.8 137.7,72.2 137.9,73.9 138.0,71.7 138.2,72.5 138.4,73.6 138.5,74.2 138.7,74.7 138.9,72.5 139.0,72.0 139.2,73.3 139.4,73.2 139.5,74.4 139.7,73.6 139.9,74.5 140.0,75.0 140.2,75.8 140.4,73.3 140.5,74.0 140.7,75.3 140.9,74.6 141.0,73.3 141.2,75.7 141.4,74.9 141.5,74.7 141.7,75.2 141.9,75.6 142.0,74.3 142.2,75.5 142.4,74.6 142.5,76.7 142.7,75.2 142.9,76.3 143.0,75.8 143.2,75.4 143.4,76.0 143.5,76.4 143.7,75.4 143.9,78.3 144.0,75.6 144.2,75.8 144.4,76.2 144.5,77.0 144.7,75.8 144.9,75.4 145.0,78.0 145.2,77.4 145.4,76.7 145.5,77.4 145.7,75.9 145.9,77.6 146.0,76.8 146.2,77.0 146.4,77.2 146.5,77.5 146.7,77.1 146.9,76.8 147.0,77.2 147.2,77.3 147.4,77.4 147.5,77.3 147.7,77.9 147.9,76.8 148.0,76.7 148.2,77.4 148.4,77.9 148.5,77.7 148.7,76.9 148.9,78.3 149.0,77.1 149.2,76.8 149.4,78.8 149.5,77.5 149.7,78.7 149.9,77.9 150.0,77.3 150.2,78.9 150.4,78.5 150.5,77.0 150.7,79.1 150.9,79.6 151.0,80.4 151.2,79.1 151.4,78.2 151.5,80.0 151.7,78.4 151.9,79.3 152.0,80.8 152.2,81.2 152.4,79.5 152.5,79.2 152.7,80.4 152.9,79.8 153.0,80.7 153.2,80.3 153.4,80.6 153.5,80.5 153.7,80.3 153.8,80.0 154.0,78.5 154.2,79.1 154.3,80.8 154.5,80.8 154.7,80.5 154.8,80.0 155.0,81.2 155.2,81.0 155.3,81.3 155.5,81.4 155.7,81.3 155.8,80.8 156.0,81.4 156.2,80.0 156.3,81.0 156.5,80.8 156.7,81.0 156.8,80.6 157.0,81.4 157.2,79.8 157.3,82.4 157.5,82.0 157.7,83.2 157.8,81.8 158.0,81.4 158.2,82.8 158.3,81.3 158.5,81.0 158.7,81.6 158.8,82.9 159.0,81.3 159.2,81.4 159.3,82.4 159.5,83.1 159.7,83.6 159.8,82.3 160.0,82.1 160.2,82.1 160.3,82.1 160.5,83.2 160.7,83.2 160.8,83.3 161.0,83.3 161.2,81.6 161.3,82.9 161.5,82.5 161.7,83.6 161.8,82.5 162.0,82.9 162.2,84.1 162.3,84.4 162.5,82.9 162.7,82.8 162.8,85.0 163.0,84.7 163.2,83.4 163.3,83.8 163.5,84.2 163.7,85.1 163.8,83.5 164.0,82.9 164.2,84.1 164.3,83.5 164.5,84.0 164.7,85.4 164.8,83.1 165.0,85.8 165.2,83.5 165.3,84.5 165.5,85.2 165.7,85.8 165.8,84.8 166.0,84.9 166.2,85.4 166.3,85.7 166.5,85.2 166.7,86.1 166.8,83.6 167.0,85.5 167.2,86.0 167.3,84.6 167.5,86.0 167.7,86.6 167.8,84.8 168.0,84.9 168.2,85.4 168.3,86.0 168.5,86.4 168.7,86.7 168.8,86.4 169.0,86.8 169.2,85.7 169.3,86.6 169.5,86.6 169.7,87.1 169.8,84.6 170.0,87.4 170.2,86.4 170.3,85.4 170.5,85.9 170.7,86.5 170.8,86.6 171.0,86.7 171.2,88.2 171.3,87.1 171.5,84.6 171.7,85.4 171.8,86.6 172.0,86.7 172.2,88.9 172.3,88.4 172.5,88.5 172.7,88.8 172.8,88.6 173.0,88.4 173.2,88.3 173.3,86.6 173.5,87.4 173.7,89.1 173.8,88.2 174.0,87.9 174.2,88.9 174.3,86.9 174.5,89.6 174.7,88.0 174.8,88.6 175.0,88.4 175.2,87.3 175.3,89.3 175.5,89.1 175.6,88.0 175.8,89.9 176.0,90.3 176.1,87.7 176.3,90.8 176.5,88.4 176.6,89.6 176.8,89.1 177.0,87.8 177.1,89.6 177.3,90.9 177.5,88.5 177.6,89.8 177.8,88.4 178.0,89.0 178.1,89.0 178.3,89.7 178.5,88.5 178.6,88.1 178.8,89.2 179.0,90.7 179.1,90.3 179.3,90.6 179.5,90.3 179.6,90.1 179.8,89.6 180.0,89.0 180.1,91.8 180.3,90.1 180.5,88.0 180.6,89.3 180.8,90.1 181.0,88.9 181.1,89.9 181.3,91.5 181.5,89.4 181.6,90.3 181.8,91.2 182.0,91.3 182.1,91.9 182.3,92.2 182.5,90.5 182.6,89.0 182.8,89.4 183.0,91.1 183.1,92.4 183.3,90.3 183.5,92.4 183.6,92.9 183.8,91.2 184.0,92.4 184.1,93.0 184.3,90.6 184.5,91.1 184.6,91.4 184.8,89.7 185.0,91.1 185.1,92.8 185.3,90.5 185.5,91.1 185.6,92.5 185.8,92.8 186.0,90.8 186.1,92.7 186.3,92.4 186.5,92.2 186.6,93.2 186.8,91.2 187.0,91.7 187.1,91.7 187.3,91.2 187.5,92.3 187.6,90.9 187.8,92.2 188.0,92.4 188.1,91.2 188.3,92.8 188.5,91.6 188.6,91.9 188.8,92.2 189.0,92.7 189.1,92.7 189.3,92.3 189.5,92.3 189.6,94.7 189.8,92.8 190.0,93.4 190.1,93.8 190.3,92.2 190.5,91.1 190.6,92.3 190.8,93.2 191.0,94.2 191.1,93.9 191.3,92.9 191.5,90.7 191.6,92.5 191.8,92.6 192.0,94.7 192.1,95.2 192.3,94.9 192.5,92.8 192.6,94.1 192.8,94.2 193.0,93.3 193.1,95.1 193.3,94.0 193.5,93.8 193.6,93.2 193.8,93.0 194.0,93.8 194.1,95.4 194.3,94.6 194.5,94.3 194.6,94.9 194.8,93.5 195.0,96.8 195.1,94.6 195.3,94.1 195.5,95.1 195.6,92.9 195.8,93.8 196.0,94.1 196.1,95.9 196.3,95.3 196.5,94.2 196.6,96.7 196.8,94.9 197.0,95.0 197.1,97.5 197.3,95.9 197.5,96.0 197.6,95.2 197.8,95.9 197.9,94.8 198.1,94.9 198.3,95.2 198.4,93.4 198.6,94.3 198.8,96.4 198.9,95.4 199.1,96.3 199.3,97.3 199.4,94.7 199.6,95.2 199.8,95.8 199.9,95.9 200.1,96.5 200.3,95.0 200.4,95.1 200.6,96.2 200.8,97.9 200.9,94.0 201.1,94.4 201.3,95.3 201.4,96.6 201.6,97.2 201.8,96.9 201.9,97.1 202.1,94.9 202.3,96.3 202.4,97.2 202.6,97.2 202.8,96.7 202.9,97.8 203.1,95.9 203.3,95.7 203.4,96.3 203.6,95.6 203.8,97.5 203.9,96.3 204.1,96.7 204.3,97.5 204.4,97.1 204.6,97.3 204.8,97.5 204.9,97.0 205.1,97.5 205.3,96.7 205.4,97.4 205.6,97.9 205.8,98.0 205.9,96.6 206.1,98.2 206.3,97.1 206.4,97.9 206.6,96.9 206.8,96.6 206.9,99.3 207.1,97.0 207.3,97.6 207.4,97.0 207.6,97.6 207.8,97.5 207.9,98.6 208.1,98.6 208.3,96.7 208.4,97.5 208.6,100.3 208.8,98.5 208.9,98.7 209.1,97.5 209.3,97.5 209.4,99.5 209.6,100.0 209.8,97.9 209.9,99.6 210.1,99.2 210.3,97.7 210.4,98.9 210.6,99.6 210.8,99.3 210.9,98.3 211.1,96.3 211.3,98.5 211.4,99.1 211.6,97.9 211.8,99.2 211.9,100.2 212.1,99.6 212.3,95.8 212.4,98.6 212.6,99.7 212.8,99.4 212.9,101.4 213.1,96.6 213.3,100.1 213.4,99.7 213.6,99.0 213.8,98.7 213.9,98.8 214.1,99.1 214.3,97.5 214.4,100.6 214.6,100.8 214.8,98.8 214.9,99.8 215.1,100.7 215.3,99.2 215.4,101.3 215.6,98.5 215.8,98.2 215.9,100.5 216.1,100.4 216.3,99.9 216.4,100.1 216.6,100.6 216.8,99.6 216.9,99.8 217.1,102.4 217.3,101.2 217.4,98.2 217.6,101.0 217.8,101.0 217.9,100.3 218.1,100.3 218.3,100.1 218.4,99.9 218.6,100.1 218.8,102.6 218.9,101.0 219.1,101.6 219.3,100.0 219.4,100.4 219.6,98.4 219.8,101.5 219.9,99.1 220.1,99.6 220.2,101.7 220.4,100.2 220.6,99.9 220.7,101.2 220.9,100.6 221.1,100.9 221.2,101.9 221.4,103.2 221.6,103.4 221.7,102.6 221.9,101.3 222.1,102.5 222.2,101.1 222.4,102.0 222.6,100.7 222.7,100.4 222.9,101.4 223.1,102.4 223.2,102.7 223.4,100.7 223.6,102.4 223.7,101.2 223.9,103.8 224.1,104.0 224.2,103.1 224.4,103.8 224.6,101.3 224.7,102.3 224.9,101.6 225.1,102.8 225.2,101.7 225.4,101.8 225.6,103.1 225.7,102.1 225.9,103.1 226.1,101.6 226.2,101.4 226.4,101.2 226.6,103.2 226.7,103.2 226.9,101.9 227.1,103.5 227.2,102.8 227.4,105.4 227.6,102.7 227.7,102.0 227.9,102.7 228.1,102.2 228.2,103.5 228.4,104.3 228.6,102.5 228.7,102.2 228.9,102.1 229.1,103.5 229.2,102.4 229.4,101.8 229.6,102.4 229.7,103.4 229.9,102.5 230.1,101.8 230.2,103.5 230.4,104.9 230.6,105.9 230.7,104.0 230.9,104.3 231.1,103.8 231.2,103.7 231.4,102.9 231.6,104.2 231.7,103.4 231.9,106.3 232.1,103.5 232.2,102.8 232.4,103.0 232.6,103.8 232.7,103.0 232.9,104.0 233.1,104.3 233.2,104.3 233.4,102.8 233.6,104.1 233.7,106.0 233.9,103.8 234.1,104.7 234.2,104.2 234.4,104.3 234.6,104.7 234.7,104.7 234.9,105.5 235.1,102.1 235.2,103.6 235.4,106.5 235.6,104.7 235.7,105.1 235.9,103.8 236.1,106.6 236.2,103.2 236.4,105.1 236.6,105.4 236.7,104.9 236.9,104.7 237.1,105.1 237.2,103.4 237.4,102.6 237.6,103.7 237.7,105.2 237.9,105.5 238.1,103.0 238.2,104.2 238.4,104.3 238.6,103.3 238.7,106.3 238.9,104.4 239.1,105.1 239.2,107.4 239.4,104.5 239.6,105.5 239.7,106.0 239.9,107.6 240.1,103.6 240.2,107.8 240.4,103.8 240.6,104.6 240.7,105.8 240.9,107.2 241.1,107.5 241.2,104.0 241.4,105.2 241.6,104.9 241.7,104.2 241.9,104.7 242.1,106.6 242.2,102.0 242.4,105.2 242.5,105.7 242.7,106.8 242.9,107.1 243.0,105.4 243.2,104.8 243.4,107.5 243.5,105.2 243.7,108.4 243.9,105.4 244.0,104.8 244.2,105.5 244.4,107.8 244.5,107.6 244.7,104.9 244.9,105.8 245.0,105.9 245.2,106.9 245.4,106.5 245.5,108.2 245.7,107.1 245.9,108.5 246.0,108.1 246.2,104.3 246.4,106.8 246.5,106.2 246.7,106.6 246.9,106.8 247.0,106.5 247.2,106.0 247.4,107.1 247.5,105.5 247.7,106.3 247.9,106.1 248.0,107.2 248.2,107.6 248.4,107.1 248.5,105.7 248.7,108.7 248.9,109.9 249.0,106.3 249.2,107.0 249.4,106.1 249.5,107.7 249.7,108.1 249.9,109.4 250.0,107.4 250.2,107.6 250.4,107.1 250.5,107.4 250.7,108.4 250.9,109.9 251.0,107.9 251.2,108.5 251.4,109.2 251.5,108.1 251.7,108.3 251.9,107.8 252.0,108.3 252.2,107.8 252.4,107.1 252.5,109.6 252.7,108.2 252.9,108.1 253.0,109.0 253.2,109.2 253.4,108.7 253.5,107.0 253.7,106.3 253.9,110.3 254.0,105.3 254.2,108.4 254.4,107.6 254.5,110.0 254.7,108.1 254.9,109.1 255.0,109.3 255.2,108.7 255.4,107.5 255.5,109.4 255.7,107.8 255.9,107.6 256.0,107.7 256.2,107.7 256.4,108.7 256.5,107.7 256.7,108.4 256.9,108.7 257.0,109.0 257.2,109.1 257.4,108.2 257.5,110.4 257.7,107.9 257.9,107.8 258.0,108.1 258.2,108.9 258.4,108.7 258.5,109.3 258.7,109.7 258.9,109.5 259.0,109.2 259.2,108.1 259.4,109.3 259.5,108.2 259.7,111.4 259.9,109.5 260.0,108.7 260.2,108.9 260.4,108.3 260.5,111.4 260.7,107.6 260.9,109.0 261.0,108.0 261.2,107.0 261.4,107.5 261.5,110.5 261.7,109.9 261.9,109.7 262.0,108.1 262.2,110.6 262.4,110.9 262.5,107.8 262.7,110.6 262.9,108.6 263.0,108.3 263.2,110.1 263.4,108.5 263.5,108.7 263.7,108.4 263.9,109.3 264.0,110.6 264.2,111.4 264.4,110.0 264.5,108.7 264.7,112.5 264.8,110.3 265.0,110.0 265.2,108.2 265.3,108.6 265.5,110.3 265.7,108.5 265.8,109.4 266.0,110.3 266.2,107.5 266.3,108.6 266.5,110.0 266.7,110.9 266.8,108.9 267.0,109.5 267.2,109.1 267.3,110.3 267.5,111.9 267.7,112.3 267.8,109.6 268.0,108.7 268.2,112.3 268.3,110.4 268.5,107.4 268.7,109.8 268.8,108.8 269.0,108.0 269.2,109.7 269.3,110.9 269.5,110.3 269.7,112.2 269.8,110.5 270.0,109.9 270.2,111.7 270.3,113.0 270.5,109.7 270.7,112.6 270.8,110.8 271.0,109.1 271.2,110.1 271.3,109.6 271.5,111.1 271.7,111.1 271.8,109.4 272.0,110.4 272.2,111.1 272.3,113.0 272.5,110.7 272.7,112.0 272.8,110.1 273.0,110.1 273.2,111.3 273.3,109.0 273.5,113.8 273.7,110.3 273.8,110.2 274.0,111.0 274.2,111.2 274.3,108.3 274.5,110.7 274.7,111.1 274.8,112.6 275.0,112.0 275.2,109.9 275.3,112.5 275.5,111.4 275.7,110.3 275.8,113.8 276.0,114.2 276.2,112.6 276.3,111.7 276.5,111.6 276.7,112.5 276.8,110.7 277.0,111.0 277.2,112.7 277.3,112.8 277.5,112.7 277.7,112.9 277.8,110.2 278.0,115.6 278.2,111.1 278.3,111.9 278.5,111.6 278.7,112.0 278.8,110.4 279.0,112.2 279.2,112.2 279.3,111.1 279.5,114.5 279.7,111.8 279.8,111.2 280.0,113.2 280.2,111.3 280.3,112.2 280.5,113.1 280.7,111.6 280.8,114.3 281.0,110.9 281.2,111.1 281.3,112.4 281.5,112.2 281.7,112.2 281.8,111.8 282.0,113.8 282.2,114.4 282.3,111.4 282.5,112.9 282.7,110.7 282.8,116.4 283.0,112.8 283.2,114.4 283.3,112.7 283.5,111.4 283.7,112.6 283.8,113.1 284.0,112.5 284.2,114.0 284.3,114.7 284.5,110.8 284.7,113.4 284.8,111.8 285.0,112.8 285.2,112.6 285.3,113.7 285.5,113.2 285.7,114.4 285.8,113.6 286.0,111.9 286.2,114.1 286.3,115.2 286.5,111.7 286.7,112.1 286.8,112.2 287.0,113.1 287.1,115.4 287.3,115.2 287.5,113.0 287.6,113.2 287.8,113.6 288.0,115.1 288.1,114.9 288.3,114.0 288.5,112.6 288.6,112.8 288.8,112.7 289.0,114.1 289.1,112.8 289.3,112.7 289.5,114.7 289.6,113.0 289.8,113.4 290.0,113.1 290.1,112.8 290.3,113.3 290.5,114.5 290.6,110.8 290.8,114.0 291.0,113.6 291.1,113.5 291.3,115.4 291.5,112.7 291.6,112.5 291.8,112.5 292.0,114.2 292.1,114.4 292.3,115.1 292.5,112.7 292.6,113.5 292.8,113.7 293.0,113.6 293.1,115.2 293.3,112.2 293.5,113.2 293.6,112.7 293.8,114.4 294.0,113.3 294.1,113.3 294.3,114.5 294.5,112.2 294.6,115.7 294.8,114.0 295.0,113.9 295.1,114.1 295.3,116.3 295.5,111.7 295.6,112.9 295.8,111.9 296.0,116.3 296.1,114.6 296.3,113.4 296.5,112.8 296.6,114.1 296.8,112.6 297.0,116.3 297.1,116.1 297.3,116.0 297.5,113.2 297.6,113.9 297.8,114.4 298.0,116.0 298.1,114.7 298.3,114.7 298.5,112.5 298.6,115.0 298.8,113.2 299.0,113.3 299.1,113.4 299.3,114.6 299.5,114.3 299.6,115.0 299.8,113.3 300.0,115.5 300.1,118.2 300.3,113.4 300.5,117.8 300.6,113.4 300.8,113.8 301.0,114.8 301.1,112.1 301.3,114.4 301.5,112.5 301.6,114.2 301.8,112.7 302.0,115.6 302.1,117.8 302.3,114.3 302.5,112.9 302.6,115.2 302.8,115.3 303.0,114.9 303.1,113.9 303.3,114.8 303.5,113.0 303.6,115.8 303.8,115.3 304.0,113.4 304.1,112.9 304.3,115.5 304.5,113.1 304.6,113.5 304.8,117.3 305.0,115.4 305.1,111.9 305.3,112.2 305.5,115.3 305.6,113.1 305.8,113.6 306.0,114.9 306.1,114.2 306.3,113.3 306.5,115.7 306.6,114.1 306.8,113.9 307.0,116.3 307.1,113.8 307.3,115.3 307.5,115.6 307.6,114.6 307.8,114.2 308.0,115.3 308.1,116.2 308.3,117.5 308.5,114.5 308.6,116.0 308.8,114.8 309.0,113.0 309.1,113.8 309.3,115.4 309.4,115.2 309.6,115.2 309.8,115.5 309.9,115.0 310.1,115.1 310.3,114.9 310.4,114.0 310.6,112.1 310.8,115.0 310.9,115.8 311.1,114.8 311.3,114.8 311.4,115.5 311.6,116.0 311.8,117.5 311.9,114.7 312.1,117.5 312.3,114.1 312.4,115.7 312.6,117.3 312.8,116.0 312.9,116.0 313.1,114.8 313.3,115.5 313.4,116.0 313.6,117.0 313.8,114.9 313.9,116.9 314.1,118.0 314.3,117.5 314.4,112.7 314.6,115.5 314.8,115.2 314.9,116.5 315.1,115.5 315.3,117.6 315.4,114.2 315.6,116.7 315.8,117.0 315.9,116.9 316.1,116.6 316.3,115.3 316.4,114.0 316.6,115.8 316.8,118.6 316.9,114.2 317.1,114.8 317.3,114.4 317.4,118.3 317.6,115.8 317.8,115.4 317.9,116.3 318.1,114.7 318.3,114.2 318.4,114.8 318.6,114.9 318.8,115.8 318.9,113.7 319.1,116.3 319.3,113.7 319.4,116.8 319.6,116.5 319.8,115.0 319.9,117.5 320.1,117.8 320.3,115.5 320.4,116.7 320.6,115.6 320.8,116.1 320.9,115.7 321.1,116.2 321.3,114.7 321.4,115.3 321.6,115.5 321.8,114.5 321.9,119.4 322.1,117.9 322.3,117.1 322.4,114.8 322.6,116.6 322.8,116.4 322.9,114.5 323.1,115.5 323.3,117.4 323.4,116.6 323.6,114.1 323.8,114.7 323.9,114.7 324.1,119.2 324.3,115.3 324.4,115.2 324.6,121.3 324.8,116.2 324.9,118.3 325.1,118.0 325.3,118.5 325.4,116.4 325.6,118.1 325.8,116.9 325.9,118.8 326.1,116.7 326.3,116.3 326.4,116.6 326.6,116.6 326.8,118.4 326.9,118.0 327.1,118.2 327.3,115.9 327.4,116.1 327.6,115.7 327.8,115.2 327.9,117.7 328.1,116.5 328.3,115.9 328.4,115.3 328.6,116.2 328.8,118.9 328.9,118.3 329.1,118.6 329.3,118.0 329.4,116.2 329.6,120.2 329.8,117.5 329.9,118.7 330.1,118.7 330.3,119.7 330.4,118.1 330.6,118.9 330.8,116.0 330.9,121.0 331.1,117.3 331.3,116.8 331.4,119.5 331.6,117.1 331.7,119.2 331.9,119.0 332.1,117.2 332.2,119.3 332.4,117.3 332.6,116.9 332.7,121.3 332.9,119.6 333.1,117.3 333.2,116.5 333.4,118.4 333.6,117.9 333.7,117.9 333.9,116.9 334.1,119.1 334.2,117.6 334.4,117.6 334.6,119.3 334.7,117.8 334.9,118.3 335.1,117.0 335.2,117.9 335.4,116.1 335.6,118.2 335.7,118.4 335.9,116.4 336.1,116.8 336.2,117.3 336.4,119.5 336.6,119.6 336.7,118.8 336.9,118.6 337.1,119.4 337.2,121.0 337.4,119.1 337.6,119.5 337.7,119.3 337.9,118.8 338.1,119.4 338.2,117.8 338.4,117.5 338.6,119.5 338.7,118.1 338.9,118.9 339.1,119.4 339.2,119.2 339.4,119.9 339.6,117.2 339.7,117.4 339.9,117.3 340.1,118.7 340.2,119.4 340.4,117.2 340.6,117.7 340.7,121.0 340.9,118.6 341.1,120.1 341.2,118.2 341.4,121.2 341.6,120.6 341.7,118.9 341.9,120.7 342.1,117.9 342.2,117.4 342.4,119.2 342.6,118.3 342.7,119.8 342.9,119.3 343.1,121.1 343.2,120.2 343.4,118.9 343.6,119.4 343.7,119.8 343.9,121.4 344.1,119.1 344.2,119.9 344.4,118.3 344.6,119.2 344.7,117.6 344.9,118.4 345.1,120.8 345.2,118.5 345.4,118.6 345.6,119.3 345.7,117.8 345.9,117.8 346.1,119.6 346.2,120.2 346.4,117.8 346.6,119.9 346.7,119.3 346.9,122.2 347.1,121.1 347.2,120.4 347.4,120.7 347.6,120.6 347.7,119.8 347.9,119.3 348.1,121.9 348.2,119.2 348.4,117.6 348.6,119.4 348.7,117.8 348.9,119.0 349.1,121.9 349.2,122.7 349.4,118.6 349.6,119.5 349.7,119.4 349.9,120.1 350.1,121.3 350.2,119.4 350.4,120.1 350.6,118.1 350.7,119.7 350.9,117.5 351.1,119.5 351.2,120.8 351.4,118.2 351.6,119.2 351.7,120.5 351.9,121.6 352.1,121.3 352.2,121.8 352.4,119.9 352.6,119.3 352.7,119.4 352.9,122.2 353.1,122.3 353.2,120.8 353.4,120.6 353.5,123.0 353.7,118.1 353.9,119.6 354.0,118.7 354.2,119.8 354.4,120.8 354.5,120.7 354.7,122.4 354.9,122.2 355.0,121.3 355.2,119.7 355.4,120.8 355.5,123.4 355.7,121.3 355.9,122.0 356.0,119.8 356.2,122.4 356.4,120.7 356.5,120.6 356.7,121.7 356.9,120.3 357.0,119.8 357.2,121.4 357.4,122.2 357.5,120.4 357.7,122.8 357.9,123.9 358.0,121.1 358.2,120.9 358.4,120.4 358.5,119.1 358.7,121.1 358.9,122.4 359.0,122.4 359.2,118.6 359.4,120.1 359.5,120.5 359.7,123.7 359.9,122.2 360.0,123.5 360.2,121.0 360.4,122.7 360.5,123.2 360.7,120.8 360.9,122.2 361.0,122.5 361.2,122.4 361.4,119.9 361.5,121.9 361.7,122.0 361.9,120.2 362.0,122.4 362.2,120.7 362.4,121.3 362.5,122.5 362.7,122.1 362.9,121.4 363.0,122.5 363.2,122.0 363.4,120.2 363.5,122.7 363.7,123.0 363.9,123.1 364.0,123.4 364.2,122.8 364.4,120.1 364.5,122.1 364.7,121.9 364.9,122.7 365.0,119.4 365.2,123.4 365.4,121.7 365.5,123.6 365.7,122.0 365.9,123.7 366.0,122.3 366.2,124.5 366.4,123.4 366.5,122.2 366.7,122.5 366.9,121.1 367.0,124.1 367.2,126.0 367.4,123.4 367.5,122.2 367.7,121.3 367.9,124.5 368.0,121.0 368.2,123.7 368.4,122.4 368.5,122.2 368.7,123.6 368.9,119.7 369.0,122.3 369.2,124.6 369.4,122.2 369.5,125.4 369.7,120.9 369.9,123.7 370.0,121.1 370.2,121.4 370.4,123.6 370.5,124.5 370.7,122.2 370.9,122.5 371.0,123.8 371.2,121.3 371.4,124.3 371.5,123.8 371.7,122.8 371.9,124.3 372.0,123.4 372.2,122.7 372.4,123.5 372.5,121.9 372.7,123.1 372.9,124.9 373.0,121.9 373.2,124.0 373.4,123.4 373.5,124.9 373.7,124.6 373.9,120.5 374.0,120.8 374.2,127.6 374.4,122.4 374.5,122.1 374.7,124.1 374.9,123.9 375.0,122.3 375.2,125.5 375.4,125.1 375.5,124.9 375.7,122.0 375.8,122.7 376.0,122.5 376.2,125.3 376.3,124.1 376.5,124.2 376.7,124.6 376.8,120.1 377.0,121.6 377.2,125.3 377.3,122.3 377.5,122.7 377.7,122.7 377.8,122.3 378.0,125.0 378.2,125.1 378.3,123.8 378.5,125.6 378.7,122.6 378.8,126.3 379.0,126.7 379.2,124.7 379.3,123.8 379.5,121.8 379.7,124.3 379.8,126.2 380.0,125.3 380.2,124.9 380.3,126.7 380.5,125.9 380.7,126.8 380.8,123.6 381.0,128.1 381.2,123.1 381.3,125.5 381.5,126.9 381.7,126.3 381.8,124.3 382.0,125.2 382.2,125.1 382.3,125.5 382.5,125.4 382.7,125.5 382.8,126.9 383.0,124.6 383.2,125.3 383.3,128.3 383.5,125.3 383.7,126.1 383.8,127.4 384.0,125.4 384.2,126.0 384.3,125.1 384.5,127.1 384.7,122.8 384.8,125.1 385.0,125.1 385.2,126.3 385.3,123.4 385.5,122.5 385.7,125.4 385.8,124.8 386.0,124.5 386.2,126.0 386.3,128.3 386.5,125.1 386.7,123.7 386.8,124.9 387.0,124.8 387.2,123.7 387.3,125.2 387.5,122.0 387.7,127.2 387.8,126.2 388.0,126.4 388.2,124.7 388.3,123.7 388.5,126.3 388.7,124.3 388.8,123.2 389.0,125.7 389.2,125.3 389.3,126.3 389.5,126.2 389.7,122.6 389.8,125.9 390.0,126.0 390.2,128.1 390.3,129.7 390.5,127.9 390.7,124.0 390.8,126.6 391.0,129.9" stroke="#00f" stroke-width="2.0"/>
<g fill="#fff" stroke="#000" stroke-width="0.9"><polygon points="82.5,23.5 88.5,23.5 85.5,29.0"/><polygon points="91.5,35.5 97.5,35.5 94.5,41.0"/><polygon points="99.5,46.5 105.5,46.5 102.5,52.0"/><polygon points="108.5,55.5 114.5,55.5 111.5,61.0"/><polygon points="117.5,64.5 123.5,64.5 120.5,70.0"/><polygon points="125.5,72.5 131.5,72.5 128.5,78.0"/><polygon points="134.5,80.5 140.5,80.5 137.5,86.0"/><polygon points="142.5,86.5 148.5,86.5 145.5,92.0"/><polygon points="151.5,92.5 157.5,92.5 154.5,98.0"/><polygon points="160.5,98.5 166.5,98.5 163.5,104.0"/><polygon points="168.5,104.5 174.5,104.5 171.5,110.0"/><polygon points="177.5,109.5 183.5,109.5 180.5,115.0"/><polygon points="185.5,114.5 191.5,114.5 188.5,120.0"/><polygon points="194.5,119.5 200.5,119.5 197.5,125.0"/><polygon points="202.5,124.5 208.5,124.5 205.5,130.0"/><polygon points="211.5,128.5 217.5,128.5 214.5,134.0"/><polygon points="220.5,133.5 226.5,133.5 223.5,139.0"/><polygon points="228.5,138.5 234.5,138.5 231.5,144.0"/><polygon points="237.5,142.5 243.5,142.5 240.5,148.0"/><polygon points="245.5,147.5 251.5,147.5 248.5,153.0"/><polygon points="254.5,151.5 260.5,151.5 257.5,157.0"/><polygon points="262.5,156.5 268.5,156.5 265.5,162.0"/><polygon points="271.5,160.5 277.5,160.5 274.5,166.0"/><polygon points="280.5,164.5 286.5,164.5 283.5,170.0"/><polygon points="288.5,169.5 294.5,169.5 291.5,175.0"/><polygon points="297.5,173.5 303.5,173.5 300.5,179.0"/><polygon points="305.5,177.5 311.5,177.5 308.5,183.0"/><polygon points="314.5,181.5 320.5,181.5 317.5,187.0"/><polygon points="323.5,185.5 329.5,185.5 326.5,191.0"/><polygon points="331.5,189.5 337.5,189.5 334.5,195.0"/><polygon points="340.5,193.5 346.5,193.5 343.5,199.0"/><polygon points="348.5,197.5 354.5,197.5 351.5,203.0"/><polygon points="357.5,200.5 363.5,200.5 360.5,206.0"/><polygon points="365.5,204.5 371.5,204.5 368.5,210.0"/><polygon points="374.5,207.5 380.5,207.5 377.5,213.0"/><polygon points="383.5,210.5 389.5,210.5 386.5,216.0"/></g>
<g fill="#fff" stroke="#000" stroke-width="0.9"><rect x="81.30" y="23.30" width="4.4" height="4.4"/><rect x="90.30" y="33.30" width="4.4" height="4.4"/><rect x="99.30" y="42.30" width="4.4" height="4.4"/><rect x="107.30" y="50.30" width="4.4" height="4.4"/><rect x="116.30" y="58.30" width="4.4" height="4.4"/><rect x="125.30" y="64.30" width="4.4" height="4.4"/><rect x="133.30" y="70.30" width="4.4" height="4.4"/><rect x="142.30" y="75.30" width="4.4" height="4.4"/><rect x="150.30" y="79.30" width="4.4" height="4.4"/><rect x="159.30" y="82.30" width="4.4" height="4.4"/><rect x="168.30" y="85.30" width="4.4" height="4.4"/><rect x="176.30" y="88.30" width="4.4" height="4.4"/><rect x="185.30" y="90.30" width="4.4" height="4.4"/><rect x="194.30" y="92.30" width="4.4" height="4.4"/><rect x="202.30" y="94.30" width="4.4" height="4.4"/><rect x="211.30" y="95.30" width="4.4" height="4.4"/><rect x="220.30" y="97.30" width="4.4" height="4.4"/><rect x="228.30" y="99.30" width="4.4" height="4.4"/><rect x="237.30" y="100.30" width="4.4" height="4.4"/><rect x="246.30" y="102.30" width="4.4" height="4.4"/><rect x="254.30" y="103.30" width="4.4" height="4.4"/><rect x="263.30" y="104.30" width="4.4" height="4.4"/><rect x="272.30" y="106.30" width="4.4" height="4.4"/><rect x="280.30" y="107.30" width="4.4" height="4.4"/><rect x="289.30" y="109.30" width="4.4" height="4.4"/><rect x="298.30" y="110.30" width="4.4" height="4.4"/><rect x="306.30" y="111.30" width="4.4" height="4.4"/><rect x="315.30" y="113.30" width="4.4" height="4.4"/><rect x="324.30" y="114.30" width="4.4" height="4.4"/><rect x="332.30" y="115.30" width="4.4" height="4.4"/><rect x="341.30" y="117.30" width="4.4" height="4.4"/><rect x="350.30" y="118.30" width="4.4" height="4.4"/><rect x="358.30" y="119.30" width="4.4" height="4.4"/><rect x="367.30" y="121.30" width="4.4" height="4.4"/><rect x="375.30" y="122.30" width="4.4" height="4.4"/><rect x="384.30" y="123.30" width="4.4" height="4.4"/></g>
</g>
<path d="M82.82 252.0V247.4M82.82 4.0V8.6M144.46 252.0V247.4M144.46 4.0V8.6M206.09 252.0V247.4M206.09 4.0V8.6M267.73 252.0V247.4M267.73 4.0V8.6M329.36 252.0V247.4M329.36 4.0V8.6M55.43 252.0V249.7M55.43 4.0V6.6M62.27 252.0V249.7M62.27 4.0V6.6M69.12 252.0V249.7M69.12 4.0V6.6M75.97 252.0V249.7M75.97 4.0V6.6M89.67 252.0V249.7M89.67 4.0V6.6M96.52 252.0V249.7M96.52 4.0V6.6M103.37 252.0V249.7M103.37 4.0V6.6M110.21 252.0V249.7M110.21 4.0V6.6M117.06 252.0V249.7M117.06 4.0V6.6M123.91 252.0V249.7M123.91 4.0V6.6M130.76 252.0V249.7M130.76 4.0V6.6M137.61 252.0V249.7M137.61 4.0V6.6M151.30 252.0V249.7M151.30 4.0V6.6M158.15 252.0V249.7M158.15 4.0V6.6M165.00 252.0V249.7M165.00 4.0V6.6M171.85 252.0V249.7M171.85 4.0V6.6M178.70 252.0V249.7M178.70 4.0V6.6M185.55 252.0V249.7M185.55 4.0V6.6M192.40 252.0V249.7M192.40 4.0V6.6M199.24 252.0V249.7M199.24 4.0V6.6M212.94 252.0V249.7M212.94 4.0V6.6M219.79 252.0V249.7M219.79 4.0V6.6M226.64 252.0V249.7M226.64 4.0V6.6M233.49 252.0V249.7M233.49 4.0V6.6M240.33 252.0V249.7M240.33 4.0V6.6M247.18 252.0V249.7M247.18 4.0V6.6M254.03 252.0V249.7M254.03 4.0V6.6M260.88 252.0V249.7M260.88 4.0V6.6M274.58 252.0V249.7M274.58 4.0V6.6M281.42 252.0V249.7M281.42 4.0V6.6M288.27 252.0V249.7M288.27 4.0V6.6M295.12 252.0V249.7M295.12 4.0V6.6M301.97 252.0V249.7M301.97 4.0V6.6M308.82 252.0V249.7M308.82 4.0V6.6M315.67 252.0V249.7M315.67 4.0V6.6M322.52 252.0V249.7M322.52 4.0V6.6M336.21 252.0V249.7M336.21 4.0V6.6M343.06 252.0V249.7M343.06 4.0V6.6M349.91 252.0V249.7M349.91 4.0V6.6M356.76 252.0V249.7M356.76 4.0V6.6M363.61 252.0V249.7M363.61 4.0V6.6M370.45 252.0V249.7M370.45 4.0V6.6M377.30 252.0V249.7M377.30 4.0V6.6M384.15 252.0V249.7M384.15 4.0V6.6M53.0 25.80H57.9M390.0 25.80H385.1M53.0 101.53H57.9M390.0 101.53H385.1M53.0 177.26H57.9M390.0 177.26H385.1M53.0 78.73H55.1M390.0 78.73H387.9M53.0 65.40H55.1M390.0 65.40H387.9M53.0 55.94H55.1M390.0 55.94H387.9M53.0 48.60H55.1M390.0 48.60H387.9M53.0 42.60H55.1M390.0 42.60H387.9M53.0 37.53H55.1M390.0 37.53H387.9M53.0 33.14H55.1M390.0 33.14H387.9M53.0 29.27H55.1M390.0 29.27H387.9M53.0 154.46H55.1M390.0 154.46H387.9M53.0 141.13H55.1M390.0 141.13H387.9M53.0 131.67H55.1M390.0 131.67H387.9M53.0 124.33H55.1M390.0 124.33H387.9M53.0 118.33H55.1M390.0 118.33H387.9M53.0 113.26H55.1M390.0 113.26H387.9M53.0 108.87H55.1M390.0 108.87H387.9M53.0 105.00H55.1M390.0 105.00H387.9M53.0 230.19H55.1M390.0 230.19H387.9M53.0 216.86H55.1M390.0 216.86H387.9M53.0 207.40H55.1M390.0 207.40H387.9M53.0 200.06H55.1M390.0 200.06H387.9M53.0 194.06H55.1M390.0 194.06H387.9M53.0 188.99H55.1M390.0 188.99H387.9M53.0 184.60H55.1M390.0 184.60H387.9M53.0 180.73H55.1M390.0 180.73H387.9" stroke="#000" stroke-width="1.7" fill="none"/>
<rect x="52.0" y="3.0" width="339.0" height="250.0" fill="none" stroke="#000" stroke-width="2"/>
<g style="font-family:'Liberation Sans',Arial,sans-serif" font-size="12.5" fill="#000" stroke="#000" stroke-width="0.3">
<g text-anchor="end">
<text x="47.4" y="29.3">1</text>
<text x="47.4" y="105.1">0,1</text>
<text x="47.4" y="180.9">0,01</text>
<text x="47.4" y="256.8">1E-3</text>
</g>
<g text-anchor="middle">
<text x="82.82" y="268.7">0</text>
<text x="144.46" y="268.7">10</text>
<text x="206.09" y="268.7">20</text>
<text x="267.73" y="268.7">30</text>
<text x="329.36" y="268.7">40</text>
<text x="391.00" y="268.7">50</text>
</g>
<text x="221.9" y="290.8" text-anchor="middle" font-size="14.6">decay time (ns)</text>
<text transform="translate(12.3,96.6) rotate(-90)" text-anchor="middle" font-size="14.6">normalized intensity</text>
</g>
</svg>
</body></html>
